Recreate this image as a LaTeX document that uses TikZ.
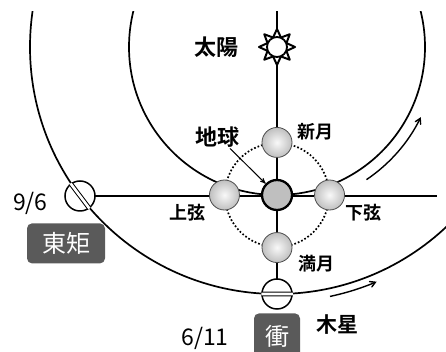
\documentclass[tikz,border=0pt]{standalone}
\usepackage{fontspec}
\setmainfont{Noto Sans CJK JP}[BoldFont={Noto Sans CJK JP Bold}]
\usepackage{tikz}
\usetikzlibrary{arrows,positioning}
\definecolor{tagfill}{RGB}{90,90,90}

\begin{document}
\begin{tikzpicture}[x=1pt,y=1pt,>=stealth',line width=1.3pt,node distance=21pt,
    moon/.style={circle,minimum size=30pt,inner sep=0pt,draw=gray!60!black,line width=.8pt,inner color=gray!5,outer color=gray!50},
    planet/.style={circle,minimum size=30pt,inner sep=0pt,draw,line width=1.5pt,fill=white},
    tag/.style={fill=tagfill,text=white,rounded corners=5pt,inner sep=0pt,font=\fontsize{24}{24}\selectfont},
    lbl/.style={inner sep=0pt,font=\bfseries\fontsize{18}{18}\selectfont},
    big/.style={inner sep=0pt,font=\bfseries\fontsize{22}{22}\selectfont},
    date/.style={inner sep=0pt,font=\fontsize{23}{23}\selectfont}]
  \useasboundingbox (0,0) rectangle (446,352);
  \coordinate (sun) at (277,305);
  \coordinate (e) at (277,157);
  \coordinate (j1) at (80,156);
  \coordinate (j2) at (277,58);
  \coordinate (top) at (277,352);
  \coordinate (farend) at (437,156);

  % orbits and axes
  \begin{scope}
    \clip (0,0) rectangle (446,340);
    \draw[line width=1.7pt] (sun) circle (148) (sun) circle (247);
    \draw (top) -- (j2);
  \end{scope}
  \draw (j1) -- (farend);
  \draw[dotted,line width=1.7pt] (e) circle (52);
  \draw[-angle 60,line width=1.4pt] ([shift={(-56:160)}]sun) arc[start angle=-56,end angle=-26,radius=160];
  \draw[-angle 60,line width=1.4pt] ([shift={(-78:255)}]sun) arc[start angle=-78,end angle=-67,radius=255];

  % sun
  \foreach \a in {0,45,...,315}
    \draw[fill=white,line width=2pt,line join=round] ([shift={(\a-24:10)}]sun) -- ([shift={(\a:18)}]sun) -- ([shift={(\a+24:10)}]sun) -- cycle;
  \node[circle,draw,fill=white,line width=1.8pt,minimum size=20pt,inner sep=0pt] (sundisk) at (sun) {};

  \node[circle,draw,fill=gray!50,line width=2.3pt,minimum size=30pt,inner sep=0pt] (earth) at (e) {};
  \node[moon] (newmoon)   [above=of earth] {};
  \node[moon] (fullmoon)  [below=of earth] {};
  \node[moon] (leftmoon)  [left=of earth]  {};
  \node[moon] (rightmoon) [right=of earth] {};

  \node[planet] (jup1) at (j1) {};
  \node[planet] (jup2) at (j2) {};
  \draw[double,double distance=2.6pt,line width=1pt] (jup1.127) -- (jup1.-53) (jup2.west) -- (jup2.east);

  \node[big,left=27pt of sundisk] (sunlbl) {太陽};
  \node[big,left=21pt of newmoon,yshift=5pt] (earthlbl) {地球};
  \draw[->,line width=1pt] ([xshift=12pt]earthlbl.south) -- (earth.north west);
  \node[lbl,right=4pt of newmoon,yshift=11pt] {新月};
  \node[lbl,right=5pt of fullmoon,yshift=-16pt] {満月};
  \node[lbl,left=3pt of leftmoon,yshift=-18pt] {上弦};
  \node[lbl,right=0pt of rightmoon,yshift=-18pt] {下弦};

  \node[date,left=16pt of jup1,yshift=-7pt] {9/6};
  \node[tag,minimum width=78pt,minimum height=40pt,below=11pt of jup1,xshift=-14pt] (quad) {東矩};
  \node[tag,minimum width=46pt,minimum height=45pt,below=3pt of jup2] (opp) {衝};
  \node[date,left=24pt of opp,yshift=-3pt] {6/11};
  \node[big,font=\bfseries\fontsize{21}{21}\selectfont,right=15pt of opp,yshift=11pt] {木星};
\end{tikzpicture}
\end{document}
